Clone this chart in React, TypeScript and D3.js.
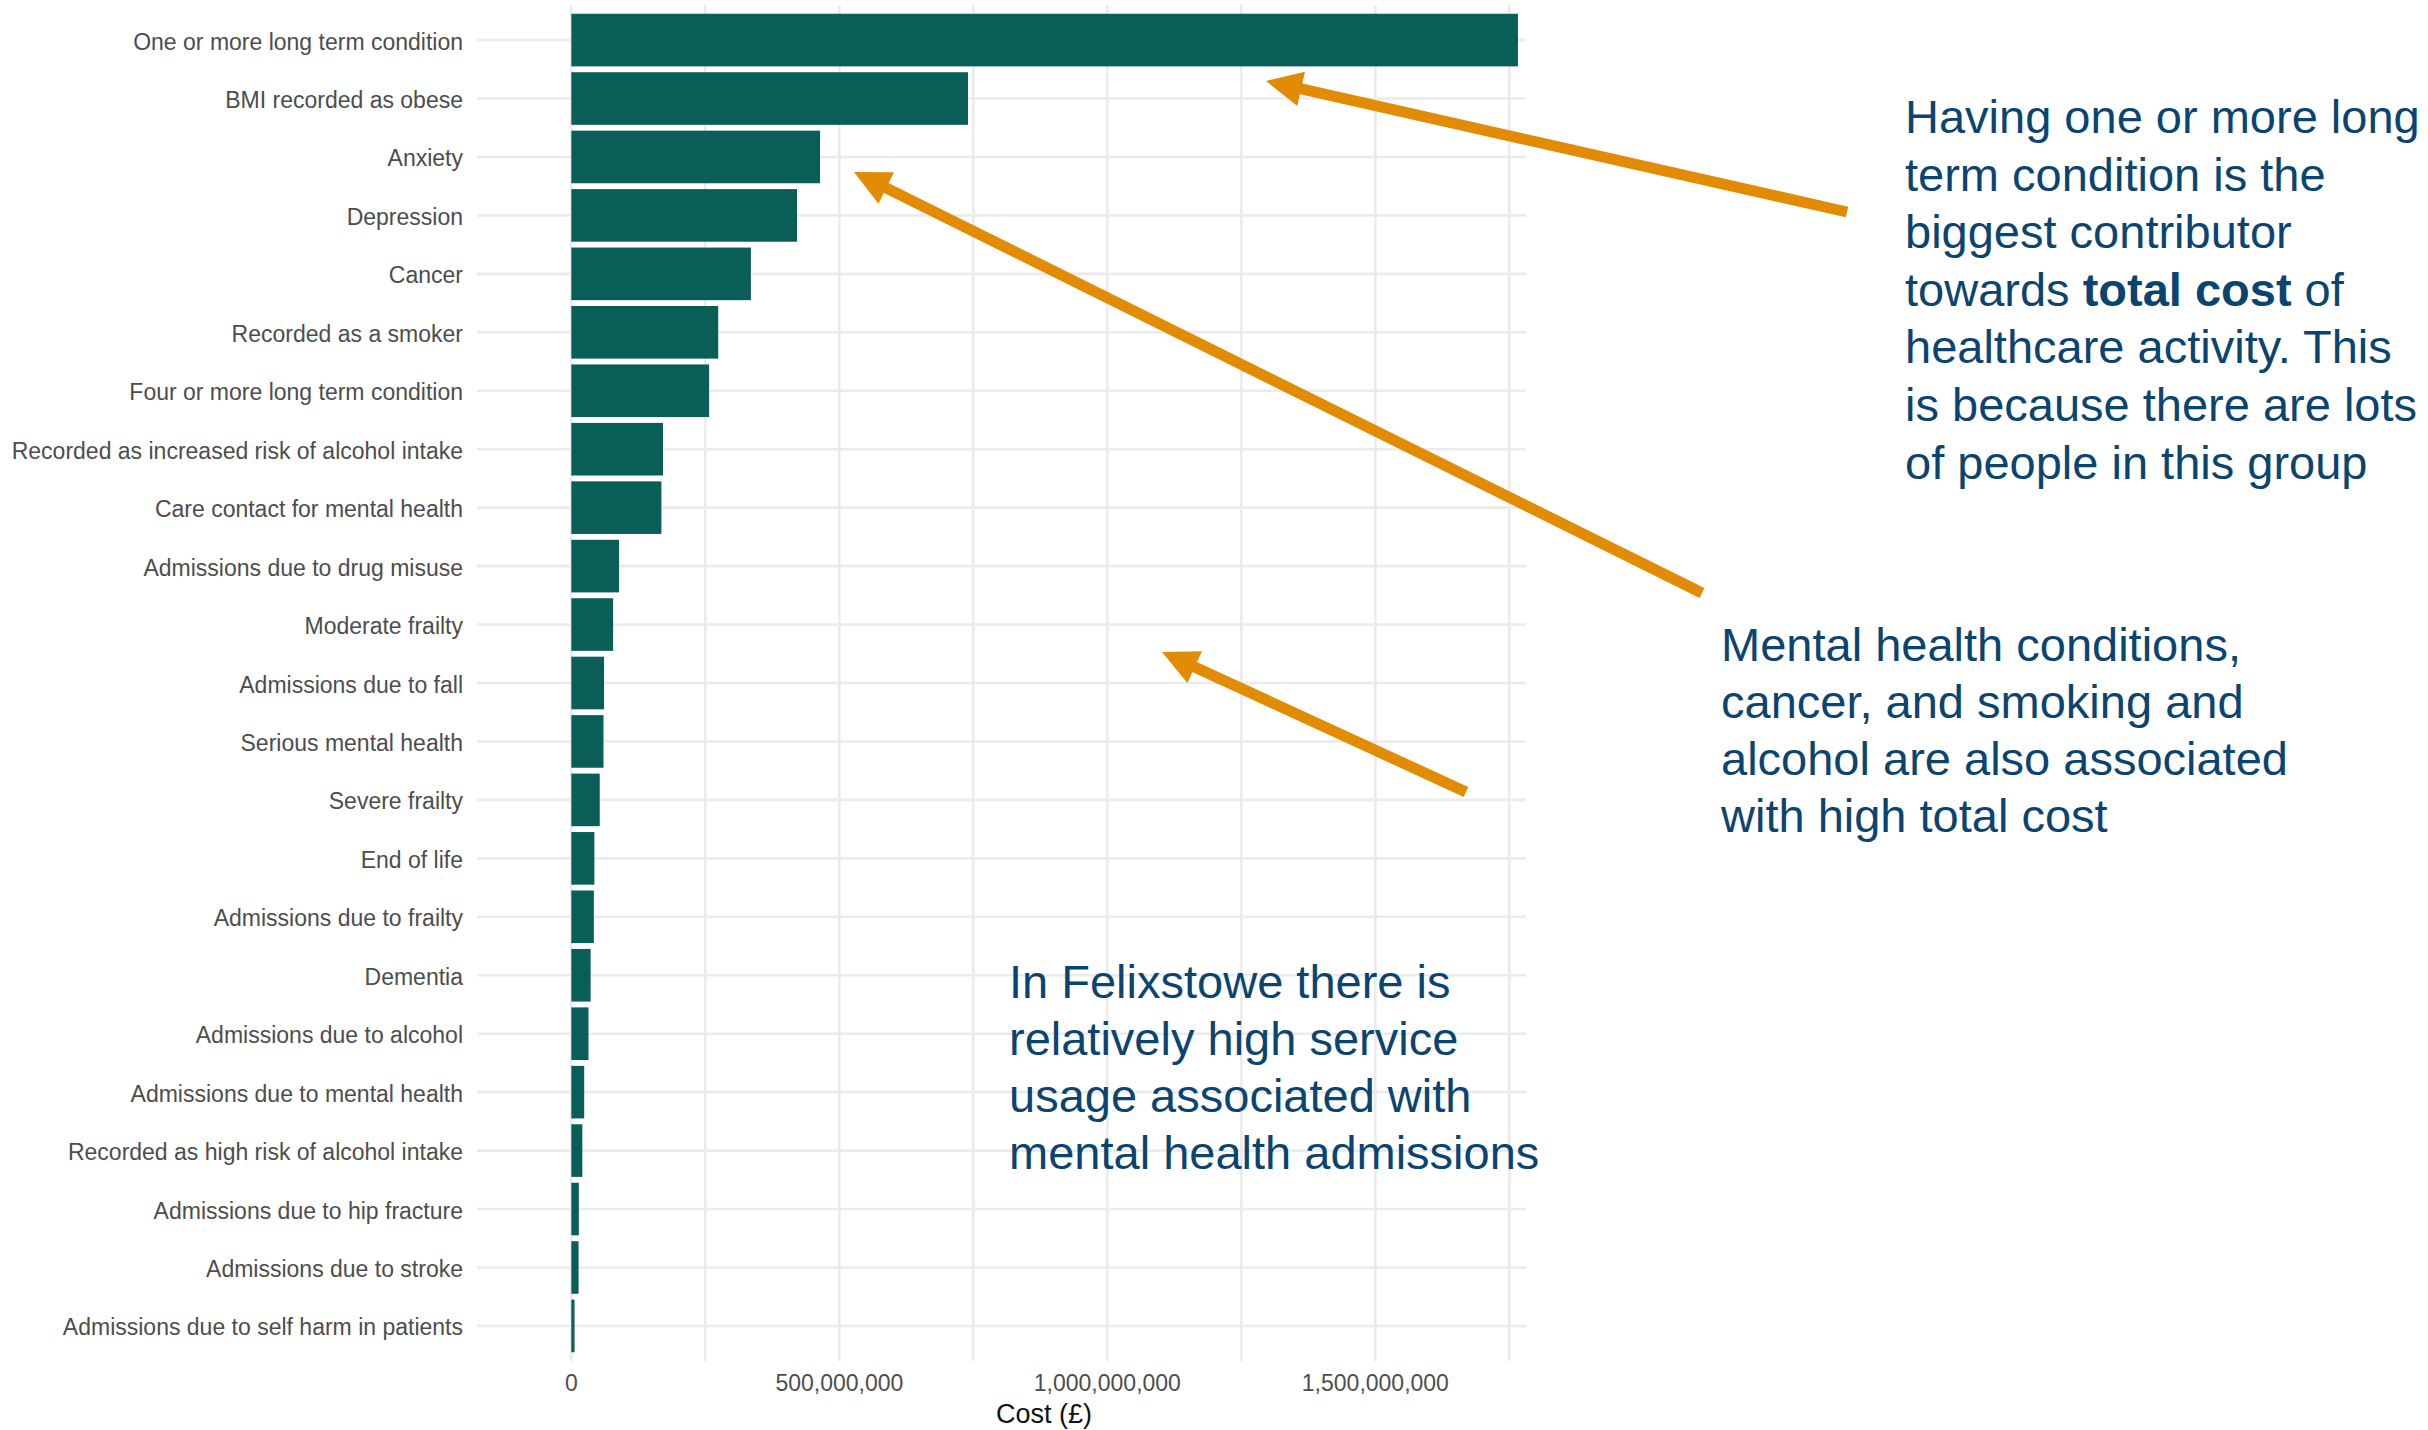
import React, { useEffect } from "react";
import * as d3 from "d3";

// categories, top to bottom
const categories = [
  "One or more long term condition",
  "BMI recorded as obese",
  "Anxiety",
  "Depression",
  "Cancer",
  "Recorded as a smoker",
  "Four or more long term condition",
  "Recorded as increased risk of alcohol intake",
  "Care contact for mental health",
  "Admissions due to drug misuse",
  "Moderate frailty",
  "Admissions due to fall",
  "Serious mental health",
  "Severe frailty",
  "End of life",
  "Admissions due to frailty",
  "Dementia",
  "Admissions due to alcohol",
  "Admissions due to mental health",
  "Recorded as high risk of alcohol intake",
  "Admissions due to hip fracture",
  "Admissions due to stroke",
  "Admissions due to self harm in patients",
];

// total cost in £
const costs = [
  1766e6, 740e6, 464e6, 421e6, 335e6, 274e6, 257e6, 171e6, 168e6, 89e6, 78e6,
  61e6, 60e6, 53e6, 43e6, 42e6, 36e6, 32e6, 24e6, 20.5e6, 14e6, 13.5e6, 6e6,
];

const majorTicks = [0, 500e6, 1000e6, 1500e6];
const minorTicks = [250e6, 750e6, 1250e6, 1750e6];

const note1 = [
  ["Having one or more long"],
  ["term condition is the"],
  ["biggest contributor"],
  ["towards ", "total cost", " of"],
  ["healthcare activity. This"],
  ["is because there are lots"],
  ["of people in this group"],
];
const note2 = [
  "Mental health conditions,",
  "cancer, and smoking and",
  "alcohol are also associated",
  "with high total cost",
];
const note3 = [
  "In Felixstowe there is",
  "relatively high service",
  "usage associated with",
  "mental health admissions",
];

// arrows: tail -> tip (layout, pixels)
const arrows = [
  { from: [1847, 212], to: [1266, 81] },
  { from: [1702, 593], to: [854, 172] },
  { from: [1466, 792], to: [1162, 652] },
];

const W = 2428;
const H = 1430;
const panel = { left: 477, right: 1526, top: 5, bottom: 1361 };
const FONT = '"Liberation Sans", Arial, Helvetica, sans-serif';
const BAR = "#0a5e58";
const GRID = "#ebebeb";
const ORANGE = "#e28c05";
const NAVY = "#0c4470";

function Arrow({ from, to }: { from: number[]; to: number[] }) {
  const dx = to[0] - from[0];
  const dy = to[1] - from[1];
  const len = Math.sqrt(dx * dx + dy * dy);
  const ux = dx / len;
  const uy = dy / len;
  const headLen = 36;
  const halfW = 17.5;
  const bx = to[0] - ux * headLen;
  const by = to[1] - uy * headLen;
  const p1 = [bx - uy * halfW, by + ux * halfW];
  const p2 = [bx + uy * halfW, by - ux * halfW];
  return (
    <g>
      <line
        x1={from[0]}
        y1={from[1]}
        x2={bx + ux * 2}
        y2={by + uy * 2}
        stroke={ORANGE}
        strokeWidth={11}
      />
      <polygon
        points={`${to[0]},${to[1]} ${p1[0]},${p1[1]} ${p2[0]},${p2[1]}`}
        fill={ORANGE}
      />
    </g>
  );
}

export default function App() {
  useEffect(() => {
    document.body.style.margin = "0";
  }, []);

  const x = d3
    .scaleLinear()
    .domain([-176e6, 1781e6])
    .range([panel.left, panel.right]);

  const y = d3
    .scaleBand<string>()
    .domain(categories)
    .range([panel.top, panel.bottom])
    .paddingInner(0.1)
    .paddingOuter(0.15);

  const bw = y.bandwidth();
  const fmt = d3.format(",");

  return (
    <svg width={W} height={H} style={{ display: "block", background: "#fff" }}>
      {/* grid */}
      {categories.map((c) => (
        <line
          key={"hg" + c}
          x1={panel.left}
          x2={panel.right}
          y1={(y(c) as number) + bw / 2}
          y2={(y(c) as number) + bw / 2}
          stroke={GRID}
          strokeWidth={2.6}
        />
      ))}
      {minorTicks.concat(majorTicks).map((t) => (
        <line
          key={"vg" + t}
          x1={x(t)}
          x2={x(t)}
          y1={panel.top}
          y2={panel.bottom}
          stroke={GRID}
          strokeWidth={2.6}
        />
      ))}

      {/* bars */}
      {categories.map((c, i) => (
        <rect
          key={"b" + c}
          x={x(0)}
          y={y(c)}
          width={x(costs[i]) - x(0)}
          height={bw}
          fill={BAR}
        />
      ))}

      {/* y labels */}
      {categories.map((c) => (
        <text
          key={"yl" + c}
          x={463}
          y={(y(c) as number) + bw / 2 + 9.5}
          textAnchor="end"
          fontFamily={FONT}
          fontSize={23}
          fill="#4d4d4d"
        >
          {c}
        </text>
      ))}

      {/* x ticks */}
      {majorTicks.map((t) => (
        <text
          key={"xt" + t}
          x={x(t)}
          y={1390.5}
          textAnchor="middle"
          fontFamily={FONT}
          fontSize={23}
          fill="#4d4d4d"
        >
          {fmt(t)}
        </text>
      ))}
      <text
        x={1044}
        y={1422.5}
        textAnchor="middle"
        fontFamily={FONT}
        fontSize={27}
        fill="#111"
      >
        Cost (£)
      </text>

      {/* annotations */}
      {arrows.map((a, i) => (
        <Arrow key={"a" + i} from={a.from} to={a.to} />
      ))}

      <text fontFamily={FONT} fontSize={47} fill={NAVY}>
        {note1.map((parts, i) => (
          <tspan key={"n1" + i} x={1905} y={133 + i * 57.6}>
            {parts.map((p, j) => (
              <tspan key={j} fontWeight={p === "total cost" ? "bold" : "normal"}>
                {p}
              </tspan>
            ))}
          </tspan>
        ))}
      </text>
      <text fontFamily={FONT} fontSize={47} fill={NAVY}>
        {note2.map((l, i) => (
          <tspan key={"n2" + i} x={1721} y={661 + i * 57}>
            {l}
          </tspan>
        ))}
      </text>
      <text fontFamily={FONT} fontSize={47} fill={NAVY}>
        {note3.map((l, i) => (
          <tspan key={"n3" + i} x={1009} y={998 + i * 57}>
            {l}
          </tspan>
        ))}
      </text>
    </svg>
  );
}
